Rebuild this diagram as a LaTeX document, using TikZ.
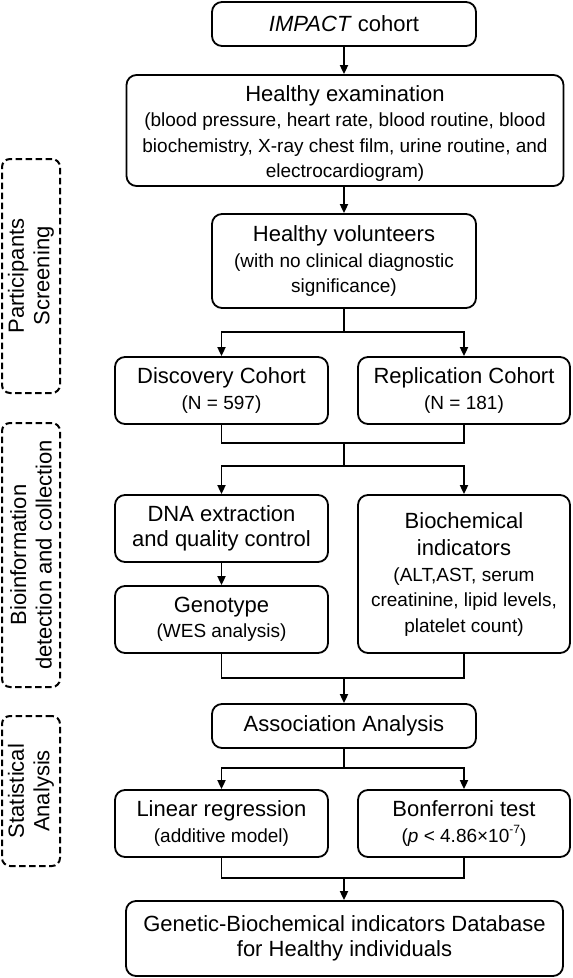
\documentclass[tikz,border=0pt]{standalone}
\usepackage{fontspec}
\setmainfont{Liberation Sans}
\usetikzlibrary{arrows.meta}
\newcommand\ttlf{\fontsize{22}{25.5}\selectfont}
\newcommand\subf{\fontsize{19}{23}\selectfont}
\begin{document}
\begin{tikzpicture}[x=1pt,y=-1pt,
  box/.style={draw,line width=1.8pt,rounded corners=10pt,align=center,inner sep=0pt,font=\ttlf},
  grp/.style={draw,line width=2pt,dash pattern=on 6.5pt off 3.5pt,rounded corners=8pt,inner sep=0pt},
  lbl/.style={rotate=90,align=center,font=\ttlf,inner sep=0pt},
  arr/.style={line width=1.8pt,-{Triangle[length=9pt,width=8pt]}},
  ln/.style={line width=1.8pt}]
\useasboundingbox (0,0) rectangle (573,978);
% group frames
\node[grp,minimum width=58pt,minimum height=234pt] (g1) at (31,276) {};
\node[grp,minimum width=58pt,minimum height=264pt] (g2) at (31,555) {};
\node[grp,minimum width=58pt,minimum height=150pt] (g3) at (31,791) {};
\node[lbl] (l1) at (g1.center) {Participants\\Screening};
\node[lbl] (l2) at (g2.center) {Bioinformation\\detection and collection};
\node[lbl] (l3) at (g3.center) {Statistical\\Analysis};
% boxes
\node[box,minimum width=264pt,minimum height=44pt] (impact) at (344,24) {\textit{IMPACT} cohort};
\node[box,minimum width=437pt,minimum height=111pt] (exam) at (345,130.5)
  {\rule{0pt}{22pt}Healthy examination\\\subf (blood pressure, heart rate, blood routine, blood\\\subf biochemistry, X-ray chest film, urine routine, and\\\subf electrocardiogram)};
\node[box,minimum width=264pt,minimum height=94pt] (vol) at (344,261)
  {Healthy volunteers\\\subf (with no clinical diagnostic\\\subf significance)};
\node[box,minimum width=213pt,minimum height=67pt] (disc) at (221.5,390.5)
  {Discovery Cohort\\\subf (N = 597)};
\node[box,minimum width=212pt,minimum height=67pt] (repl) at (464,390.5)
  {Replication Cohort\\\subf (N = 181)};
\node[box,minimum width=213pt,minimum height=67pt] (dna) at (221.5,528.5)
  {DNA extraction\\and quality control};
\node[box,minimum width=213pt,minimum height=67pt] (geno) at (221.5,619.5)
  {Genotype\\\subf (WES analysis)};
\node[box,minimum width=212pt,minimum height=158pt] (bio) at (464,574)
  {Biochemical\\[2pt]indicators\\\subf (ALT,AST, serum\\\subf creatinine, lipid levels,\\\subf platelet count)};
\node[box,minimum width=264pt,minimum height=44pt] (assoc) at (344,726) {Association Analysis};
\node[box,minimum width=213pt,minimum height=67pt] (lin) at (221.5,823.5)
  {Linear regression\\\subf (additive model)};
\node[box,minimum width=212pt,minimum height=67pt] (bon) at (464,823.5)
  {Bonferroni test\\\subf (\textit{p} < 4.86×10\raisebox{0.45em}{\fontsize{12}{12}\selectfont -7})};
\node[box,minimum width=437pt,minimum height=75pt] (final) at (344.5,938.5)
  {Genetic-Biochemical indicators Database\\for Healthy individuals};
% connectors
\coordinate (s1) at (344,332);
\coordinate (m1) at (344,443);
\coordinate (s2) at (344,466);
\coordinate (m2) at (344,678);
\coordinate (s3) at (344,768);
\coordinate (m3) at (344,878);
\draw[arr] (impact.south) -- (impact.south |- exam.north);
\draw[arr] (vol.north |- exam.south) -- (vol.north);
\draw[ln] (vol.south) -- (s1);
\draw[arr] (s1) -| (disc.north);
\draw[arr] (s1) -| (repl.north);
\draw[ln] (disc.south) |- (m1) -| (repl.south);
\draw[ln] (m1) -- (s2);
\draw[arr] (s2) -| (dna.north);
\draw[arr] (s2) -| (bio.north);
\draw[arr] (dna.south) -- (geno.north);
\draw[ln] (geno.south) |- (m2) -| (bio.south);
\draw[arr] (m2) -- (assoc.north);
\draw[ln] (assoc.south) -- (s3);
\draw[arr] (s3) -| (lin.north);
\draw[arr] (s3) -| (bon.north);
\draw[ln] (lin.south) |- (m3) -| (bon.south);
\draw[arr] (m3) -- (m3 |- final.north);
\end{tikzpicture}
\end{document}
